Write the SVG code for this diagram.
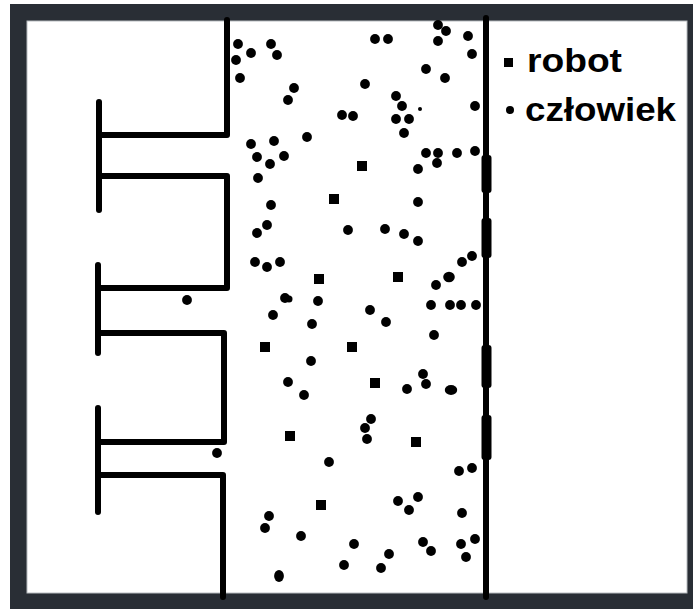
<svg xmlns="http://www.w3.org/2000/svg" width="693" height="609" viewBox="0 0 693 609">
<style>
.w{fill:none;stroke:#000;stroke-width:6;stroke-linecap:round;stroke-linejoin:round}
.p{fill:#000}
.r{fill:#000}
.t{font-family:"Liberation Sans",Arial,sans-serif;font-weight:bold;font-size:34px;fill:#000}
</style>
<defs>
<circle id="d" r="4.9"/>
<rect id="s" x="-5" y="-5" width="10" height="10"/>
</defs>
<rect x="0" y="0" width="693" height="609" fill="#fff"/>
<rect id="frame" x="10" y="4" width="683" height="605" fill="#292e35"/>
<rect x="27" y="21" width="660" height="572" fill="#fff" stroke="#b8bcc0" stroke-width="1"/>
<g id="walls">
<path class="w" d="M227,20 V135 H99"/>
<path class="w" d="M99,102 V210"/>
<path class="w" d="M99,176 H227 V288 H99"/>
<path class="w" d="M98,265 V353"/>
<path class="w" d="M99,333 H224 V442 H99"/>
<path class="w" d="M98,408 V512"/>
<path class="w" d="M99,475 H223 V597"/>
<path class="w" d="M486,18 V597" stroke-width="5"/>
<rect x="481.5" y="155" width="10" height="38" rx="3"/>
<rect x="481.5" y="218" width="10" height="40" rx="3"/>
<rect x="481.5" y="345" width="10" height="43" rx="3"/>
<rect x="481.5" y="415" width="10" height="45" rx="3"/>
</g>
<g id="robots" class="r">
<use href="#s" x="362" y="166"/>
<use href="#s" x="334" y="199"/>
<use href="#s" x="319" y="279"/>
<use href="#s" x="398" y="277"/>
<use href="#s" x="265" y="347"/>
<use href="#s" x="352" y="347"/>
<use href="#s" x="375" y="383"/>
<use href="#s" x="290" y="436"/>
<use href="#s" x="416" y="442"/>
<use href="#s" x="321" y="505"/>
</g>
<g id="people" class="p">
<use href="#d" x="238" y="44"/>
<use href="#d" x="251" y="53"/>
<use href="#d" x="236" y="60"/>
<use href="#d" x="271" y="44"/>
<use href="#d" x="277" y="55"/>
<use href="#d" x="240" y="78"/>
<use href="#d" x="294" y="88"/>
<use href="#d" x="288" y="100"/>
<use href="#d" x="342" y="115"/>
<use href="#d" x="353" y="116"/>
<use href="#d" x="307" y="137"/>
<use href="#d" x="251" y="144"/>
<use href="#d" x="274" y="141"/>
<use href="#d" x="257" y="157"/>
<use href="#d" x="270" y="164"/>
<use href="#d" x="284" y="156"/>
<use href="#d" x="258" y="178"/>
<use href="#d" x="271" y="205"/>
<use href="#d" x="375" y="39"/>
<use href="#d" x="388" y="39"/>
<use href="#d" x="438" y="25"/>
<use href="#d" x="446" y="31"/>
<use href="#d" x="438" y="41"/>
<use href="#d" x="468" y="36"/>
<use href="#d" x="472" y="54"/>
<use href="#d" x="426" y="69"/>
<use href="#d" x="445" y="78"/>
<use href="#d" x="365" y="84"/>
<use href="#d" x="396" y="96"/>
<use href="#d" x="402" y="106"/>
<circle cx="420" cy="109" r="2"/>
<use href="#d" x="475" y="106"/>
<use href="#d" x="396" y="119"/>
<use href="#d" x="409" y="119"/>
<use href="#d" x="404" y="133"/>
<use href="#d" x="426" y="153"/>
<use href="#d" x="438" y="153"/>
<use href="#d" x="437" y="163"/>
<use href="#d" x="457" y="153"/>
<use href="#d" x="475" y="151"/>
<use href="#d" x="418" y="169"/>
<use href="#d" x="418" y="202"/>
<use href="#d" x="267" y="225"/>
<use href="#d" x="257" y="233"/>
<use href="#d" x="348" y="230"/>
<use href="#d" x="255" y="262"/>
<use href="#d" x="267" y="267"/>
<use href="#d" x="280" y="262"/>
<use href="#d" x="285" y="298"/>
<circle cx="289" cy="299" r="3.5"/>
<use href="#d" x="318" y="301"/>
<use href="#d" x="273" y="315"/>
<use href="#d" x="312" y="324"/>
<use href="#d" x="311" y="361"/>
<use href="#d" x="288" y="382"/>
<use href="#d" x="304" y="395"/>
<use href="#d" x="385" y="229"/>
<use href="#d" x="404" y="234"/>
<use href="#d" x="418" y="241"/>
<use href="#d" x="462" y="262"/>
<use href="#d" x="472" y="256"/>
<use href="#d" x="436" y="285"/>
<ellipse cx="449" cy="277" rx="5.8" ry="5.2"/>
<use href="#d" x="370" y="310"/>
<use href="#d" x="386" y="322"/>
<use href="#d" x="431" y="305"/>
<use href="#d" x="450" y="305"/>
<use href="#d" x="461" y="305"/>
<use href="#d" x="476" y="305"/>
<use href="#d" x="434" y="335"/>
<use href="#d" x="423" y="374"/>
<use href="#d" x="426" y="384"/>
<use href="#d" x="407" y="389"/>
<ellipse cx="451" cy="390" rx="6.2" ry="4.9"/>
<use href="#d" x="187" y="300"/>
<use href="#d" x="217" y="453"/>
<use href="#d" x="329" y="462"/>
<use href="#d" x="269" y="516"/>
<use href="#d" x="265" y="528"/>
<use href="#d" x="301" y="536"/>
<use href="#d" x="354" y="544"/>
<use href="#d" x="344" y="565"/>
<ellipse cx="279" cy="576" rx="4.9" ry="6"/>
<use href="#d" x="371" y="419"/>
<use href="#d" x="365" y="428"/>
<use href="#d" x="367" y="439"/>
<use href="#d" x="459" y="471"/>
<use href="#d" x="472" y="468"/>
<use href="#d" x="398" y="501"/>
<use href="#d" x="418" y="497"/>
<use href="#d" x="409" y="510"/>
<use href="#d" x="462" y="513"/>
<use href="#d" x="389" y="554"/>
<use href="#d" x="381" y="568"/>
<use href="#d" x="423" y="542"/>
<use href="#d" x="431" y="551"/>
<use href="#d" x="461" y="544"/>
<use href="#d" x="475" y="539"/>
<use href="#d" x="466" y="557"/>
</g>
<g id="legend">
<rect x="504" y="58" width="9" height="9"/>
<text class="t" x="527" y="72" textLength="95" lengthAdjust="spacingAndGlyphs">robot</text>
<circle cx="510" cy="110" r="4"/>
<text class="t" x="525" y="121" textLength="151" lengthAdjust="spacingAndGlyphs">człowiek</text>
</g>
</svg>
